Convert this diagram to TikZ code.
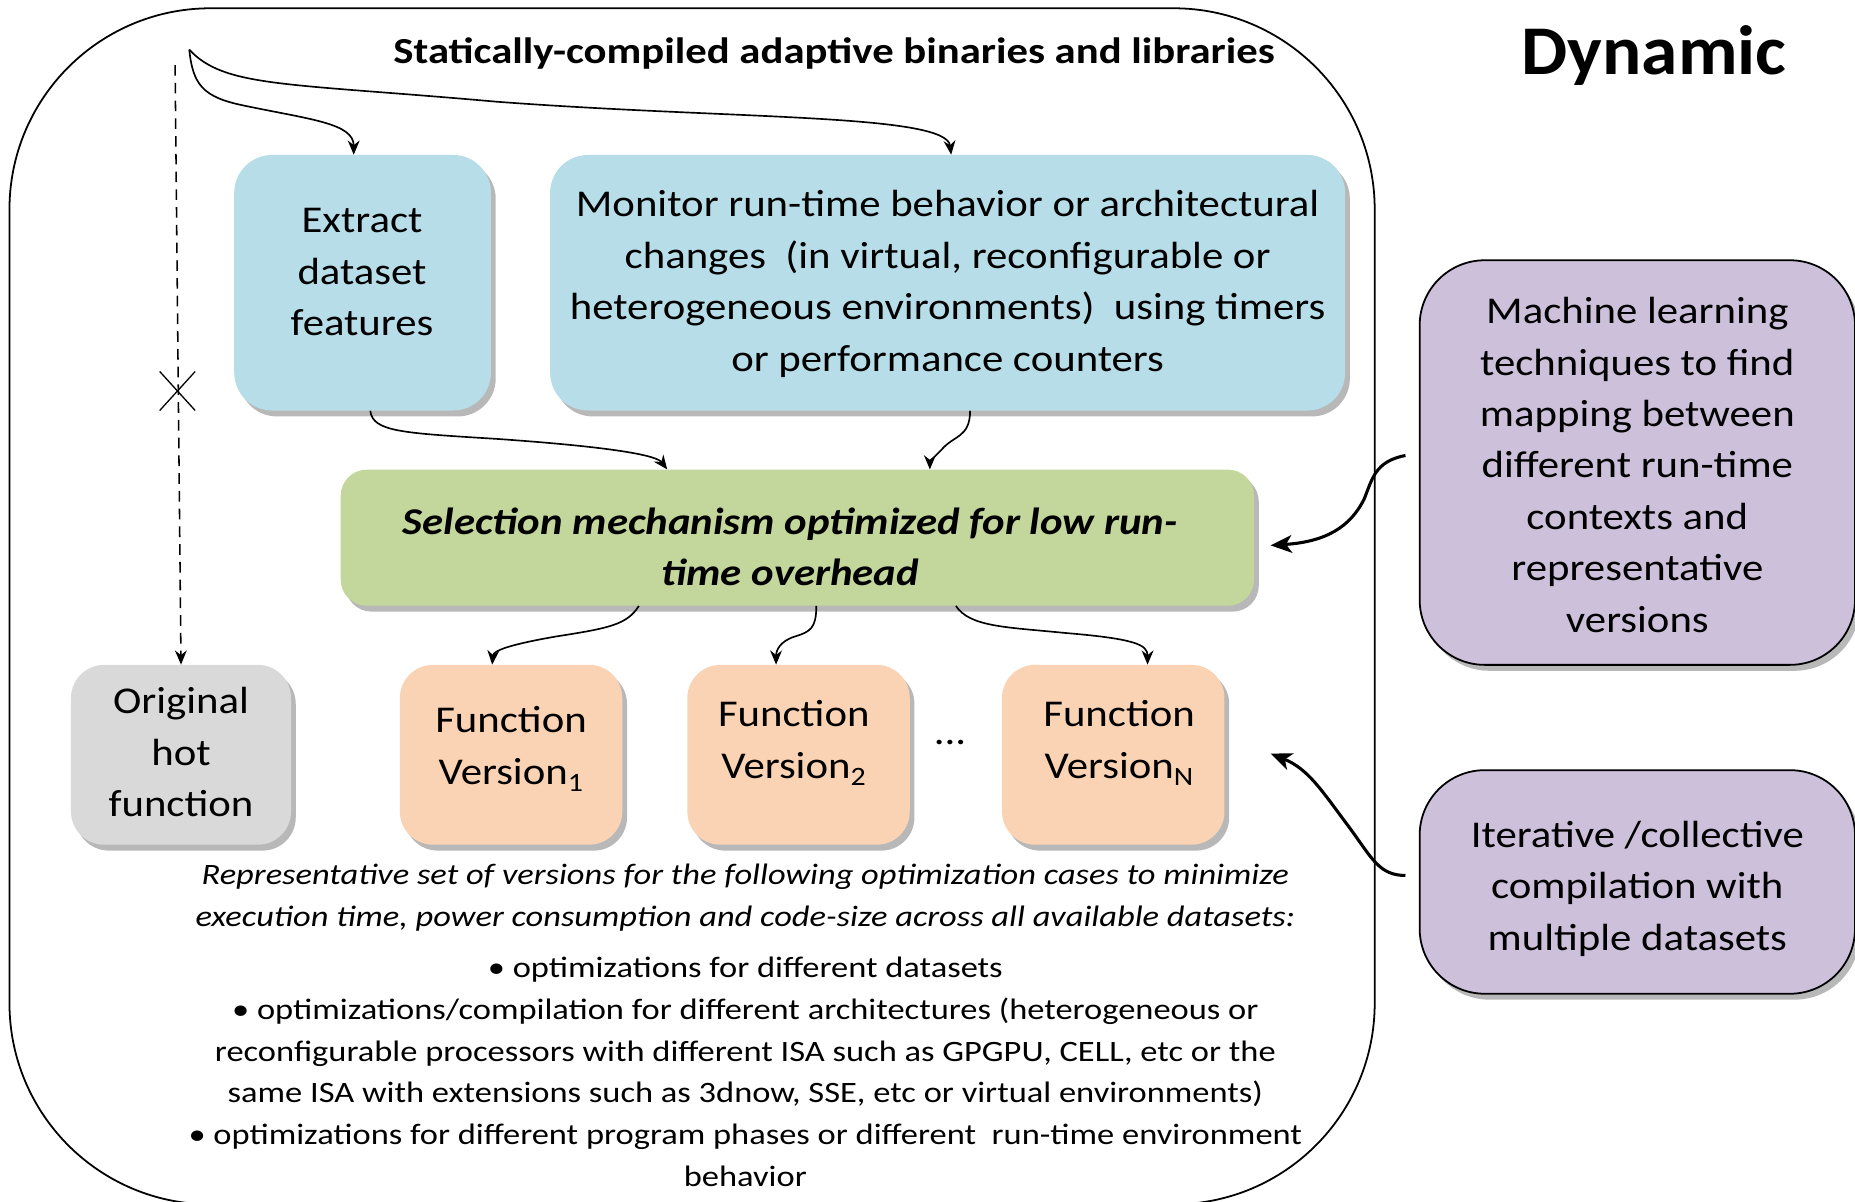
\documentclass[tikz,border=0pt]{standalone}
\usepackage{fontspec}
\setmainfont{Carlito}[FakeStretch=1.13]
\newfontfamily\widefont{Carlito}[FakeStretch=1.165]
\newfontfamily\dynfont{Carlito}[FakeStretch=1.05]
\usetikzlibrary{arrows.meta,shadows}
\definecolor{cblue}{HTML}{B7DDE8}
\definecolor{cgreen}{HTML}{C3D69B}
\definecolor{cgray}{HTML}{D9D9D9}
\definecolor{cpeach}{HTML}{FAD3B4}
\definecolor{cpurple}{HTML}{CCC0DA}
\begin{document}
\begin{tikzpicture}[x=1pt,y=-1pt,
  shade/.style={drop shadow={shadow xshift=4pt,shadow yshift=-5pt,fill=black,opacity=0.28}},
  box/.style={shade,rounded corners=32pt,inner sep=0pt},
  pbox/.style={shade,draw=black,line width=1.5pt,rounded corners=55pt,inner sep=0pt,fill=cpurple},
  txt/.style={align=center,inner sep=0pt,font=\fontsize{32}{43.5}\selectfont},
  small/.style={align=center,inner sep=0pt,font=\widefont\fontsize{25}{35.3}\selectfont},
  conn/.style={-{Stealth[length=12pt,width=10pt]},line width=1.4pt},
  thickconn/.style={-{Stealth[length=18pt,width=15pt,inset=5pt]},line width=2.6pt},
  dashconn/.style={-{Stealth[length=12pt,width=10pt]},line width=1.3pt,dash pattern=on 9pt off 6pt}
]
\useasboundingbox (0,0) rectangle (1568,1016);
\fill[white] (0,0) rectangle (1568,1016);

% outer frame
\draw[line width=1.5pt,rounded corners=170pt] (8,7) rectangle (1162,1018);

% titles
\node[inner sep=0pt,font=\widefont\fontsize{31}{36}\selectfont\bfseries] (title) at (705,45) {Statically-compiled adaptive binaries and libraries};
\node[inner sep=0pt,font=\dynfont\fontsize{59}{64}\selectfont\bfseries] (dyn) at (1398,47) {Dynamic};

% boxes
\node[box,fill=cblue,minimum width=217pt,minimum height=216pt] (extract) at (306.5,239) {};
\node[txt] (extractT) at (306,230) {Extract\\dataset\\features};

\node[box,fill=cblue,minimum width=672pt,minimum height=216pt] (monitor) at (801,239) {};
\node[txt] (monitorT) at (801,240) {Monitor run-time behavior or architectural\\changes\ \ (in virtual, reconfigurable or\\heterogeneous environments)\ \ using timers\\or performance counters};

\node[box,fill=cgreen,rounded corners=22pt,minimum width=772pt,minimum height=115pt] (sel) at (674,454.5) {};
\node[txt,font=\fontsize{32}{43}\selectfont\bfseries\itshape] (selT) at (668,462) {Selection mechanism optimized for low run-\\time overhead};

\node[box,fill=cgray,rounded corners=28pt,minimum width=186pt,minimum height=152pt] (orig) at (153,638) {};
\node[txt] (origT) at (153,636) {Original\\hot\\function};

\node[box,fill=cpeach,rounded corners=28pt,minimum width=188pt,minimum height=152pt] (f1) at (432,638) {};
\node[txt] (f1T) at (432,633) {Function\\Version\textsubscript{1}};

\node[box,fill=cpeach,rounded corners=28pt,minimum width=188pt,minimum height=152pt] (f2) at (675,638) {};
\node[txt] (f2T) at (671,628) {Function\\Version\textsubscript{2}};

\node[txt] (dots) at (803,628) {...};

\node[box,fill=cpeach,rounded corners=28pt,minimum width=188pt,minimum height=152pt] (fn) at (941,638) {};
\node[txt] (fnT) at (946,628) {Function\\Version\textsubscript{N}};

\node[pbox,minimum width=368pt,minimum height=342pt] (ml) at (1384,391) {};
\node[txt] (mlT) at (1384,393) {Machine learning\\techniques to find\\mapping between\\different run-time\\contexts and\\representative\\versions};

\node[pbox,minimum width=368pt,minimum height=189pt] (iter) at (1384,745.5) {};
\node[txt] (iterT) at (1384,751) {Iterative /collective\\compilation with\\multiple datasets};

% bottom text
\node[small,font=\widefont\fontsize{25}{35.3}\selectfont\itshape] (repT) at (630,759) {Representative set of versions for the following optimization cases to minimize\\execution time, power consumption and code-size across all available datasets:};
\node[small] (bulT) at (630,906) {• optimizations for different datasets\\• optimizations/compilation for different architectures (heterogeneous or\\reconfigurable processors with different ISA such as GPGPU, CELL, etc or the\\same ISA with extensions such as 3dnow, SSE, etc or virtual environments)\\• optimizations for different program phases or different\ \ run-time environment\\behavior};

% connectors
\coordinate (src) at (160,42);
\coordinate (dtop) at (148,55);
\draw[conn] (src) .. controls (163,72) and (172,82) .. (205,89) .. controls (262,101) and (299,104) .. (extract.north -| 299,0);
\draw[conn] (src) .. controls (190,74) and (240,70) .. (420,86) .. controls (620,101) and (800,96) .. (monitor.north -| 804,0);
\draw[dashconn] (dtop) -- (orig.north);
\draw[line width=1.1pt] (135,314) -- (165,347) (135,347) -- (165,314);

\draw[conn] (extract.south -| 313,0) .. controls (315,365) and (340,366) .. (420,371) .. controls (520,378) and (555,385) .. (sel.north -| 564,0);
\draw[conn] (monitor.south -| 820,0) .. controls (820,370) and (806,368) .. (796,380) .. controls (788,388) and (786,390) .. (sel.north -| 786,0);

\draw[conn] (sel.south -| 540,0) .. controls (530,528) and (515,531) .. (470,538) .. controls (430,545) and (417,550) .. (f1.north -| 416,0);
\draw[conn] (sel.south -| 690,0) .. controls (690,531) and (685,534) .. (672,538) .. controls (659,542) and (656,550) .. (f2.north -| 656,0);
\draw[conn] (sel.south -| 808,0) .. controls (820,530) and (850,530) .. (900,535) .. controls (960,540) and (970,545) .. (fn.north -| 970,0);

\coordinate (mlL) at (1188,385);
\coordinate (iterL) at (1188,740);
\draw[thickconn] (mlL) .. controls (1162,390) and (1160,405) .. (1153,422) .. controls (1141,446) and (1120,458) .. (1074,461);
\draw[thickconn] (iterL) .. controls (1166,740) and (1160,726) .. (1141,700) .. controls (1117,668) and (1106,650) .. (1074,637);
\end{tikzpicture}
\end{document}
